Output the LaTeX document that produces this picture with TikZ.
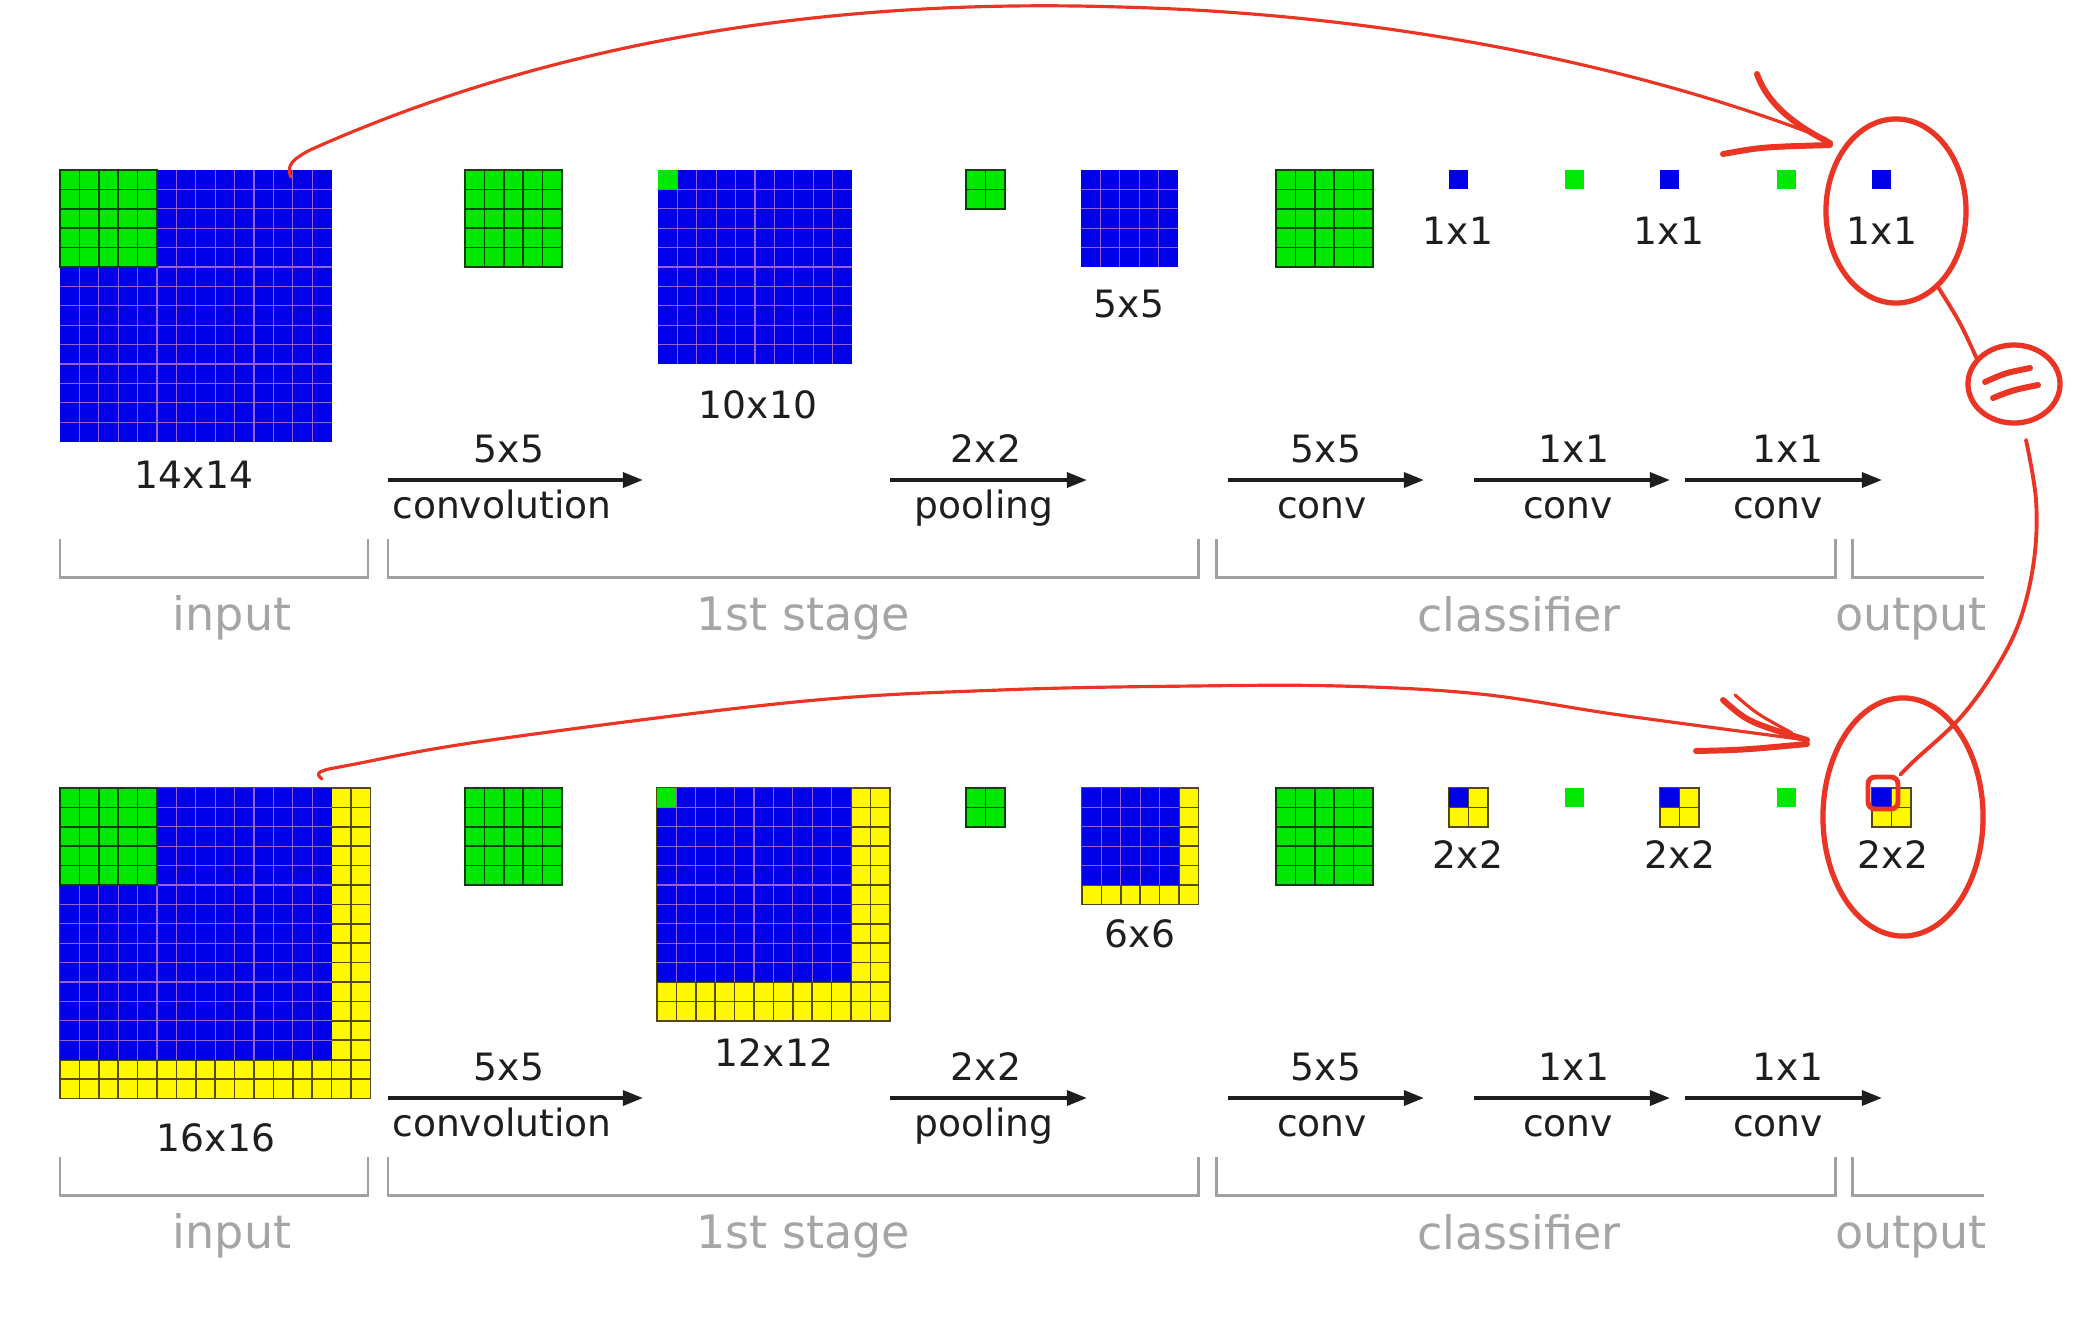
\documentclass[tikz,border=0pt]{standalone}
\usepackage{fontspec}
\setmainfont{DejaVu Sans}
\usetikzlibrary{arrows.meta,shapes.geometric}
\definecolor{cblue}{RGB}{0,0,232}
\definecolor{cgreen}{RGB}{0,232,0}
\definecolor{cyel}{RGB}{255,248,0}
\definecolor{lblue}{RGB}{150,95,215}
\definecolor{lgreen}{RGB}{0,70,0}
\definecolor{lyel}{RGB}{85,75,0}
\definecolor{penred}{RGB}{234,52,36}
\definecolor{txt}{RGB}{30,30,30}
\definecolor{stg}{RGB}{165,165,165}
\definecolor{brk}{RGB}{160,160,160}
\def\cs{19.4}
% x, y (top-left, px), cols, rows, fill, inner-line style, border style
\newcommand\cgrid[7]{%
  \fill[#5] (#1,#2) rectangle ++({#3*\cs},{#4*\cs});
  \pgfmathtruncatemacro\gnc{#3-1}%
  \pgfmathtruncatemacro\gnr{#4-1}%
  \ifnum\gnc>0 \foreach \k in {1,...,\gnc}{\draw[#6] ({#1+\k*\cs},#2) -- ++(0,{#4*\cs});}\fi
  \ifnum\gnr>0 \foreach \k in {1,...,\gnr}{\draw[#6] (#1,{#2+\k*\cs}) -- ++({#3*\cs},0);}\fi
  \draw[#7] (#1,#2) rectangle ++({#3*\cs},{#4*\cs});
}
\tikzset{
  bl/.style={draw=lblue, line width=0.35pt},
  gl/.style={draw=lgreen, line width=0.5pt},
  yl/.style={draw=lyel, line width=0.5pt},
  lab/.style={text=txt, font=\fontsize{10.7}{12}\selectfont, inner sep=0pt, anchor=base},
  stage/.style={text=stg, font=\fontsize{13.1}{15}\selectfont, inner sep=0pt, anchor=base},
  oparrow/.style={draw=txt, line width=1.1pt, -{Triangle[length=5.7pt,width=4.2pt]}},
  brack/.style={draw=brk, line width=0.85pt},
  redpen/.style={draw=penred, line width=0.9pt, line cap=round, line join=round},
  redthick/.style={draw=penred, line width=1.7pt, line cap=round, line join=round},
  loop/.style={ellipse, draw=penred, line width=1.5pt, inner sep=0pt},
}
\begin{document}
\begin{tikzpicture}[x=0.01cm, y=-0.01cm]
\useasboundingbox (0,0) rectangle (2078,1320);
\fill[white] (0,0) rectangle (2078,1320);

% ================= TOP ROW =================
\cgrid{60}{170}{14}{14}{cblue}{bl}{draw=none}
\cgrid{60}{170}{5}{5}{cgreen}{gl}{gl}
\cgrid{465}{170}{5}{5}{cgreen}{gl}{gl}
\cgrid{658}{170}{10}{10}{cblue}{bl}{draw=none}
\cgrid{658}{170}{1}{1}{cgreen}{gl}{draw=none}
\cgrid{966}{170}{2}{2}{cgreen}{gl}{gl}
\cgrid{1081}{170}{5}{5}{cblue}{bl}{draw=none}
\cgrid{1276}{170}{5}{5}{cgreen}{gl}{gl}
\cgrid{1449}{170}{1}{1}{cblue}{bl}{draw=none}
\cgrid{1565}{170}{1}{1}{cgreen}{gl}{draw=none}
\cgrid{1660}{170}{1}{1}{cblue}{bl}{draw=none}
\cgrid{1777}{170}{1}{1}{cgreen}{gl}{draw=none}
\cgrid{1872}{170}{1}{1}{cblue}{bl}{draw=none}

\node[lab] (t14) at (194,488) {14x14};
\node[lab] (t10) at (758,418) {10x10};
\node[lab] (t5) at (1129,317) {5x5};
\node[lab] (t1a) at (1458,244) {1x1};
\node[lab] (t1b) at (1669,244) {1x1};
\node[lab] (t1c) at (1882,244) {1x1};

\coordinate (ta1s) at (388,480); \coordinate (ta1e) at (643,480);
\coordinate (ta2s) at (890,480); \coordinate (ta2e) at (1087,480);
\coordinate (ta3s) at (1228,480); \coordinate (ta3e) at (1424,480);
\coordinate (ta4s) at (1474,480); \coordinate (ta4e) at (1670,480);
\coordinate (ta5s) at (1685,480); \coordinate (ta5e) at (1882,480);
\draw[oparrow] (ta1s) -- (ta1e);
\draw[oparrow] (ta2s) -- (ta2e);
\draw[oparrow] (ta3s) -- (ta3e);
\draw[oparrow] (ta4s) -- (ta4e);
\draw[oparrow] (ta5s) -- (ta5e);
\node[lab] (tk1) at (509,462) {5x5};
\node[lab] (to1) at (502,518) {convolution};
\node[lab] (tk2) at (986,462) {2x2};
\node[lab] (to2) at (984,518) {pooling};
\node[lab] (tk3) at (1326,462) {5x5};
\node[lab] (to3) at (1322,518) {conv};
\node[lab] (tk4) at (1574,462) {1x1};
\node[lab] (to4) at (1568,518) {conv};
\node[lab] (tk5) at (1788,462) {1x1};
\node[lab] (to5) at (1778,518) {conv};

\draw[brack] (60,539) -- (60,577) -- (368,577) -- (368,539);
\draw[brack] (388,539) -- (388,577) -- (1198,577) -- (1198,539);
\draw[brack] (1216,539) -- (1216,577) -- (1835,577) -- (1835,539);
\draw[brack] (1852,539) -- (1852,577) -- (1984,577);
\node[stage] (ts1) at (232,630) {input};
\node[stage] (ts2) at (803,630) {1st stage};
\node[stage] (ts3) at (1519,631) {classifier};
\node[stage] (ts4) at (1911,630) {output};

% ================= BOTTOM ROW =================
\cgrid{60}{788}{16}{16}{cyel}{yl}{yl}
\cgrid{60}{788}{14}{14}{cblue}{bl}{draw=none}
\cgrid{60}{788}{5}{5}{cgreen}{gl}{gl}
\cgrid{465}{788}{5}{5}{cgreen}{gl}{gl}
\cgrid{657}{788}{12}{12}{cyel}{yl}{yl}
\cgrid{657}{788}{10}{10}{cblue}{bl}{draw=none}
\cgrid{657}{788}{1}{1}{cgreen}{gl}{draw=none}
\cgrid{966}{788}{2}{2}{cgreen}{gl}{gl}
\cgrid{1082}{788}{6}{6}{cyel}{yl}{yl}
\cgrid{1082}{788}{5}{5}{cblue}{bl}{draw=none}
\cgrid{1276}{788}{5}{5}{cgreen}{gl}{gl}
\cgrid{1449}{788}{2}{2}{cyel}{yl}{yl}
\cgrid{1449}{788}{1}{1}{cblue}{bl}{draw=none}
\cgrid{1565}{788}{1}{1}{cgreen}{gl}{draw=none}
\cgrid{1660}{788}{2}{2}{cyel}{yl}{yl}
\cgrid{1660}{788}{1}{1}{cblue}{bl}{draw=none}
\cgrid{1777}{788}{1}{1}{cgreen}{gl}{draw=none}
\cgrid{1872}{788}{2}{2}{cyel}{yl}{yl}
\cgrid{1872}{788}{1}{1}{cblue}{bl}{draw=none}

\node[lab] (b16) at (216,1151) {16x16};
\node[lab] (b12) at (774,1066) {12x12};
\node[lab] (b6) at (1140,947) {6x6};
\node[lab] (b2a) at (1468,868) {2x2};
\node[lab] (b2b) at (1680,868) {2x2};
\node[lab] (b2c) at (1893,868) {2x2};

\coordinate (ba1s) at (388,1098); \coordinate (ba1e) at (643,1098);
\coordinate (ba2s) at (890,1098); \coordinate (ba2e) at (1087,1098);
\coordinate (ba3s) at (1228,1098); \coordinate (ba3e) at (1424,1098);
\coordinate (ba4s) at (1474,1098); \coordinate (ba4e) at (1670,1098);
\coordinate (ba5s) at (1685,1098); \coordinate (ba5e) at (1882,1098);
\draw[oparrow] (ba1s) -- (ba1e);
\draw[oparrow] (ba2s) -- (ba2e);
\draw[oparrow] (ba3s) -- (ba3e);
\draw[oparrow] (ba4s) -- (ba4e);
\draw[oparrow] (ba5s) -- (ba5e);
\node[lab] (bk1) at (509,1080) {5x5};
\node[lab] (bo1) at (502,1136) {convolution};
\node[lab] (bk2) at (986,1080) {2x2};
\node[lab] (bo2) at (984,1136) {pooling};
\node[lab] (bk3) at (1326,1080) {5x5};
\node[lab] (bo3) at (1322,1136) {conv};
\node[lab] (bk4) at (1574,1080) {1x1};
\node[lab] (bo4) at (1568,1136) {conv};
\node[lab] (bk5) at (1788,1080) {1x1};
\node[lab] (bo5) at (1778,1136) {conv};

\draw[brack] (60,1157) -- (60,1195) -- (368,1195) -- (368,1157);
\draw[brack] (388,1157) -- (388,1195) -- (1198,1195) -- (1198,1157);
\draw[brack] (1216,1157) -- (1216,1195) -- (1835,1195) -- (1835,1157);
\draw[brack] (1852,1157) -- (1852,1195) -- (1984,1195);
\node[stage] (bs1) at (232,1248) {input};
\node[stage] (bs2) at (803,1248) {1st stage};
\node[stage] (bs3) at (1519,1249) {classifier};
\node[stage] (bs4) at (1911,1248) {output};

% ================= RED ANNOTATIONS =================
\node[loop, minimum width=1.40cm, minimum height=1.84cm] (ov1) at (1896,211) {};
\node[loop, minimum width=0.92cm, minimum height=0.78cm] (ov2) at (2014,384) {};
\node[loop, minimum width=1.60cm, minimum height=2.38cm] (ov3) at (1903,817) {};
\node[draw=penred, line width=1.4pt, rounded corners=2pt, inner sep=0pt,
      minimum width=0.30cm, minimum height=0.32cm] (sq) at (1883,793) {};

\coordinate (r1s) at (291,177);
\coordinate (r1m) at (310,150);
\coordinate (r1t) at (1120,7);
\coordinate (r1e) at (1826,139);
\draw[redpen] (r1s) .. controls (285,165) and (295,158) .. (r1m)
  .. controls (600,20) and (900,0) .. (r1t)
  .. controls (1400,14) and (1650,70) .. (r1e);
\draw[redthick] (1757,74) .. controls (1768,105) and (1795,125) .. (1830,143);
\draw[redthick] (1723,154) .. controls (1762,147) .. (1830,145);

\coordinate (r2s) at (322,779);
\coordinate (r2e) at (1807,740);
\draw[redpen] plot[smooth, tension=0.6] coordinates {(r2s) (320,772) (350,765) (491,740) (795,702) (1000,690) (1193,686) (1340,686) (1480,694) (1620,715) (r2e)};
\draw[redthick] (1723,700) .. controls (1748,722) .. (1807,740);
\draw[redpen] (1735,695) .. controls (1757,714) .. (1792,733);
\draw[redthick] (1696,751) .. controls (1742,750) .. (1807,744);

\draw[redpen, line width=1.1pt] (ov1.-61) .. controls (1960,322) .. (ov2.145);
\draw[redthick] (1985,382) .. controls (2005,373) .. (2030,368);
\draw[redthick] (1993,398) .. controls (2013,390) .. (2038,385);
\coordinate (c2s) at (2026,440);
\draw[redpen, line width=1.1pt] plot[smooth, tension=0.6] coordinates {(c2s) (2036,500) (2034,560) (2020,620) (1995,670) (1960,718) (1915,760) (sq.north east)};
\end{tikzpicture}
\end{document}
